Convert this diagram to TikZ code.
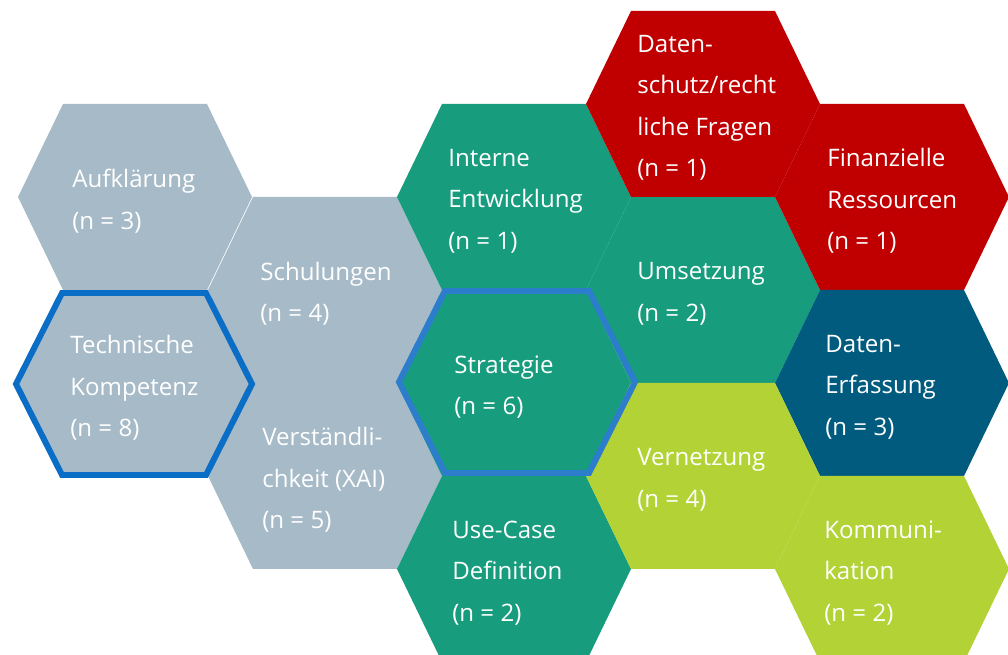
\documentclass[tikz,border=0pt]{standalone}
\usepackage{fontspec}
\setmainfont{Open Sans}
\usepackage{xcolor}

\definecolor{hexgrey}{HTML}{A6BAC7}
\definecolor{hexgreen}{HTML}{179C7D}
\definecolor{hexred}{HTML}{C00000}
\definecolor{hexblue}{HTML}{005B7F}
\definecolor{hexlime}{HTML}{B2D235}
\definecolor{ringblue}{HTML}{0A6EC6}
\definecolor{ringlight}{HTML}{2C7DCB}

% filled cell, centre at (#1,#2)
\newcommand{\hexcell}[3]{%
  \fill[#3] (#1,#2) ++(-117,0) -- ++(45,-93) -- ++(144,0) -- ++(45,93)
    -- ++(-45,93) -- ++(-144,0) -- cycle;}
% highlighted outline round a cell
\newcommand{\hexring}[3]{%
  \draw[#3,line width=3.4pt,line join=miter] (#1,#2) ++(-118,0)
    -- ++(46,-91) -- ++(144,0) -- ++(46,91) -- ++(-46,91) -- ++(-144,0) -- cycle;}

\tikzset{hextext/.style={text=white,anchor=west,align=left,inner sep=0pt,
    font=\fontsize{13.7}{23.6}\selectfont}}

\begin{document}
\begin{tikzpicture}[x=0.2mm,y=-0.2mm]
        \useasboundingbox (0,0) rectangle (1008,655);
        \clip (0,0) rectangle (1008,655);

        % Draw the grey column on the left
        \hexcell{135}{197}{hexgrey}
        \hexcell{135}{383}{hexgrey}
        \hexcell{325}{290}{hexgrey}
        \hexcell{325}{476}{hexgrey}

        % Draw the green cells
        \hexcell{514}{197}{hexgreen}
        \hexcell{514}{383}{hexgreen}
        \hexcell{514}{569}{hexgreen}
        \hexcell{703}{290}{hexgreen}

        % Draw the red, blue and lime cells
        \hexcell{703}{104}{hexred}
        \hexcell{892}{197}{hexred}
        \hexcell{892}{383}{hexblue}
        \hexcell{703}{476}{hexlime}
        \hexcell{892}{569}{hexlime}

        % Outline the two main cells
        \hexring{134}{384}{ringblue}
        \hexring{517}{382}{ringlight}

        % Labels
        \node[hextext] (aufklaerung) at (72,201) {Aufklärung\\(n = 3)};
        \node[hextext] (technik) at (70,388) {Technische\\Kompetenz\\(n = 8)};
        \node[hextext] (schulung) at (260,294) {Schulungen\\(n = 4)};
        \node[hextext] (xai) at (262,480) {Verständli-\\chkeit (XAI)\\(n = 5)};
        \node[hextext] (intern) at (448,201) {Interne\\Entwicklung\\(n = 1)};
        \node[hextext] (strategie) at (454,387) {Strategie\\(n = 6)};
        \node[hextext] (usecase) at (452,573) {Use-Case\\Definition\\(n = 2)};
        \node[hextext] (datenschutz) at (637,108) {Daten-\\schutz/recht\\liche Fragen\\(n = 1)};
        \node[hextext] (umsetzung) at (637,294) {Umsetzung\\(n = 2)};
        \node[hextext] (vernetzung) at (637,480) {Vernetzung\\(n = 4)};
        \node[hextext] (finanzen) at (827,201) {Finanzielle\\Ressourcen\\(n = 1)};
        \node[hextext] (erfassung) at (825,387) {Daten-\\Erfassung\\(n = 3)};
        \node[hextext] (kommunikation) at (824,573) {Kommuni-\\kation\\(n = 2)};
    \end{tikzpicture}
\end{document}
